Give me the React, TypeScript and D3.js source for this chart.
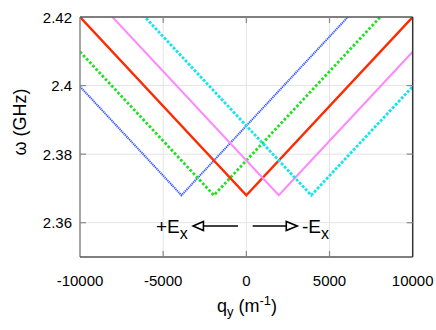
import React, { useEffect, useRef } from "react";
import * as d3 from "d3";

// mode vertices (q_y in 1/m), all at the same minimum frequency
const vertexQ = [-3900, -1950, 0, 1950, 3900];
const vertexW = [2.368, 2.368, 2.368, 2.368, 2.368];
const slope = 5.2e-6; // GHz per m^-1
const lineColors = ["#3a5cff", "#1ee01e", "#ff2a00", "#ff88ff", "#14e4ee"];
const lineDash = ["1.3,0.7", "2.6,2", null, null, "2.8,1.6"];
const lineWidth = [2, 2.8, 2.4, 2, 2.8];

const xTicks = [-10000, -5000, 0, 5000, 10000];
const yTicks = [2.36, 2.38, 2.4, 2.42];

export default function App() {
  const ref = useRef<SVGSVGElement>(null);

  useEffect(() => {
    const svg = d3.select(ref.current);
    svg.selectAll("*").remove();

    const left = 80, right = 412.7, top = 17, bottom = 257;
    const x = d3.scaleLinear().domain([-10000, 10000]).range([left, right]);
    const y = d3.scaleLinear().domain([2.35, 2.42]).range([bottom, top]);
    const font = "Liberation Sans, Arial, sans-serif";

    // grid
    svg.append("g").selectAll("line").data(xTicks.slice(1, -1)).join("line")
      .attr("x1", d => x(d)).attr("x2", d => x(d)).attr("y1", top).attr("y2", bottom)
      .attr("stroke", "#e4e4e4").attr("stroke-width", 1);
    svg.append("g").selectAll("line").data(yTicks.slice(0, -1)).join("line")
      .attr("x1", left).attr("x2", right).attr("y1", d => y(d)).attr("y2", d => y(d))
      .attr("stroke", "#e4e4e4").attr("stroke-width", 1);

    // curves
    svg.append("defs").append("clipPath").attr("id", "plotclip")
      .append("rect").attr("x", left).attr("y", top).attr("width", right - left).attr("height", bottom - top);

    const line = d3.line<number>().x(d => x(d[0])).y(d => y(d[1]));
    const curves = svg.append("g").attr("clip-path", "url(#plotclip)");
    vertexQ.forEach((q, i) => {
      const w0 = vertexW[i];
      const pts: any = [-10000, q, 10000].map(v => [v, w0 + slope * Math.abs(v - q)]);
      const p = curves.append("path")
        .attr("d", line(pts))
        .attr("fill", "none")
        .attr("stroke", lineColors[i])
        .attr("stroke-width", lineWidth[i]);
      if (lineDash[i]) p.attr("stroke-dasharray", lineDash[i]);
    });

    // frame
    svg.append("line").attr("x1", left).attr("x2", left).attr("y1", top).attr("y2", bottom)
      .attr("stroke", "#888").attr("stroke-width", 1.5);
    svg.append("line").attr("x1", left).attr("x2", right).attr("y1", bottom).attr("y2", bottom)
      .attr("stroke", "#555").attr("stroke-width", 1.5);
    svg.append("line").attr("x1", left).attr("x2", right).attr("y1", top).attr("y2", top)
      .attr("stroke", "#555").attr("stroke-width", 1.5);
    svg.append("line").attr("x1", right).attr("x2", right).attr("y1", top).attr("y2", bottom)
      .attr("stroke", "#333").attr("stroke-width", 1.5);

    // ticks
    const tk = svg.append("g").attr("stroke", "#888").attr("stroke-width", 1.2);
    xTicks.slice(1, -1).forEach(t => {
      tk.append("line").attr("x1", x(t)).attr("x2", x(t)).attr("y1", bottom).attr("y2", bottom - 6);
      tk.append("line").attr("x1", x(t)).attr("x2", x(t)).attr("y1", top).attr("y2", top + 6);
    });
    yTicks.slice(0, -1).forEach(t => {
      tk.append("line").attr("x1", left).attr("x2", left + 6).attr("y1", y(t)).attr("y2", y(t));
      tk.append("line").attr("x1", right).attr("x2", right - 6).attr("y1", y(t)).attr("y2", y(t));
    });

    // tick labels
    svg.append("g").selectAll("text").data(xTicks).join("text")
      .attr("x", d => x(d)).attr("y", 286)
      .attr("text-anchor", "middle")
      .style("font-family", font).style("font-size", "15px")
      .text(d => String(d));
    svg.append("g").selectAll("text").data(yTicks).join("text")
      .attr("x", 72).attr("y", d => y(d) + 5.5)
      .attr("text-anchor", "end")
      .style("font-family", font).style("font-size", "15px")
      .text(d => String(d));

    // axis titles
    const yl = svg.append("text")
      .attr("transform", "translate(26,122) rotate(-90)")
      .attr("text-anchor", "middle")
      .style("font-family", font).style("font-size", "18px");
    yl.append("tspan").text("ω (GHz)");

    const xl = svg.append("text")
      .attr("x", 247).attr("y", 312)
      .attr("text-anchor", "middle")
      .style("font-family", font).style("font-size", "18px");
    xl.append("tspan").text("q");
    xl.append("tspan").attr("dy", 4).style("font-size", "13px").text("y");
    xl.append("tspan").attr("dy", -4).text(" (m");
    xl.append("tspan").attr("dy", -7).style("font-size", "13px").text("-1");
    xl.append("tspan").attr("dy", 7).text(")");

    // field arrows
    const ay = 226;
    const arr = svg.append("g").attr("stroke", "#000").attr("stroke-width", 1.6).attr("fill", "#fff");
    arr.append("line").attr("x1", x(-500)).attr("x2", x(-2580)).attr("y1", ay).attr("y2", ay);
    arr.append("path").attr("d", `M${x(-3200)},${ay} L${x(-2580)},${ay - 4.5} L${x(-2580)},${ay + 4.5} Z`);
    arr.append("line").attr("x1", x(380)).attr("x2", x(2400)).attr("y1", ay).attr("y2", ay);
    arr.append("path").attr("d", `M${x(3060)},${ay} L${x(2400)},${ay - 4.5} L${x(2400)},${ay + 4.5} Z`);

    const t1 = svg.append("text").attr("x", 156).attr("y", 233)
      .style("font-family", font).style("font-size", "19px");
    t1.append("tspan").text("+E");
    t1.append("tspan").attr("dy", 6).style("font-size", "16px").text("x");
    const t2 = svg.append("text").attr("x", 302).attr("y", 233)
      .style("font-family", font).style("font-size", "19px");
    t2.append("tspan").text("-E");
    t2.append("tspan").attr("dy", 6).style("font-size", "16px").text("x");
  }, []);

  return (
    <svg ref={ref} width={436} height={330}
      style={{ position: "absolute", left: 0, top: 0, background: "#fff" }} />
  );
}
